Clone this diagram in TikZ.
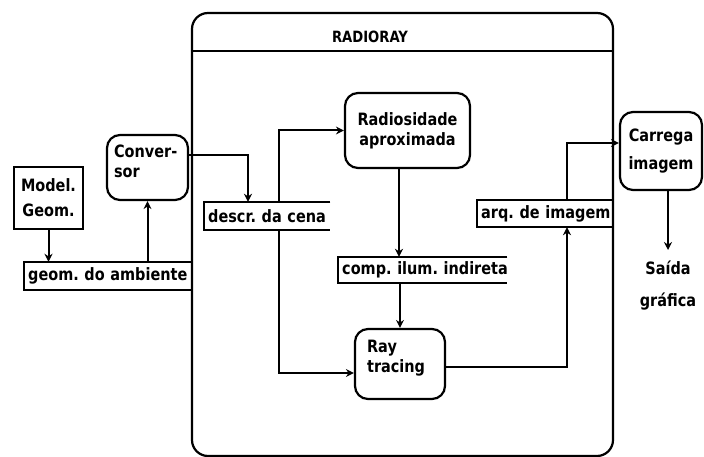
\documentclass[tikz,border=0pt]{standalone}
\usepackage{fontspec}
\setmainfont{DejaVu Sans}[FakeStretch=0.85]
\usetikzlibrary{arrows.meta}
\begin{document}
\frenchspacing
\begin{tikzpicture}[x=1pt,y=-1pt,
  every node/.style={font=\fontsize{17}{20}\selectfont\bfseries, inner sep=0pt},
  line/.style={line width=2.2pt},
  arr/.style={line width=2pt, -{Stealth[length=8pt,width=8pt]}},
  sqbox/.style={draw, line width=2.2pt, align=center},
  rbox/.style={draw, line width=2.2pt, rounded corners=13pt, align=center},
  store/.style={anchor=west, align=left, inner xsep=4pt, inner ysep=0pt},
  boxtext/.style={anchor=north west, align=left}
]
\useasboundingbox (0,0) rectangle (704,457);

% container
\node[draw, line width=2.2pt, rounded corners=16pt, minimum width=421pt, minimum height=443pt] (radioray) at (402.5,234.5) {};
\node (title) at (370,37) {\fontsize{15.5}{18}\selectfont RADIORAY};
\draw[line] ([yshift=-39pt]radioray.north west) -- ([yshift=-39pt]radioray.north east);

% processes and entities
\node[sqbox, minimum width=69pt, minimum height=62pt] (model) at (48.5,198) {Model.\\[5pt]Geom.};
\node[rbox, minimum width=81pt, minimum height=65pt,
  label={[boxtext, xshift=8pt, yshift=-10.4pt]north west:{Conver-\\sor}}] (conv) at (147.5,167.5) {};
\node[rbox, minimum width=125pt, minimum height=75pt] (rad) at (407.5,130.5) {Radiosidade\\aproximada};
\node[rbox, minimum width=90pt, minimum height=70pt,
  label={[boxtext, xshift=13pt, yshift=-11.6pt]north west:{Ray\\tracing}}] (ray) at (400,364) {};
\node[rbox, minimum width=82pt, minimum height=78pt] (car) at (661,151) {Carrega\\[8pt]imagem};
\node[align=center] (saida) at (668,286) {Saída\\[12pt]gráfica};

% data stores
\node[store, minimum width=167pt, minimum height=28pt, text width=159pt] (geom) at (24,276) {\mbox{geom. do ambiente}};
\node[store, minimum width=126pt, minimum height=28pt, text width=118pt] (descr) at (204,216) {\mbox{descr. da cena}};
\node[store, minimum width=169pt, minimum height=26pt, text width=161pt] (comp) at (338,270) {\mbox{comp. ilum. indireta}};
\node[store, minimum width=135pt, minimum height=27pt, text width=127pt] (arq) at (477,213.5) {\mbox{arq. de imagem}};
\foreach \s in {geom,descr,comp,arq}
  \draw[line] (\s.north east) -- (\s.north west) -- (\s.south west) -- (\s.south east);

% connectors
\draw[arr] (model.south) -- (model.south |- geom.north);
\draw[arr] (conv.south |- geom.north) -- (conv.south);
\draw[arr] ([yshift=12.5pt]conv.east) -| ([xshift=44pt]descr.north west);
\draw[arr] ([xshift=75pt]descr.north west) |- (rad.west);
\draw[arr] ([xshift=75pt]descr.south west) |- ([yshift=-9pt]ray.west);
\draw[arr] ([xshift=-8.5pt]rad.south) -- ([xshift=-8.5pt]rad.south |- comp.north);
\draw[arr] (ray.north |- comp.south) -- (ray.north);
\draw[arr] ([yshift=-3pt]ray.east) -| ([xshift=90pt]arq.south west);
\draw[arr] ([xshift=90pt]arq.north west) |- ([yshift=8pt]car.west);
\coordinate (out) at (668,250);
\draw[arr] ([xshift=7pt]car.south) -- (out);
\end{tikzpicture}
\end{document}
